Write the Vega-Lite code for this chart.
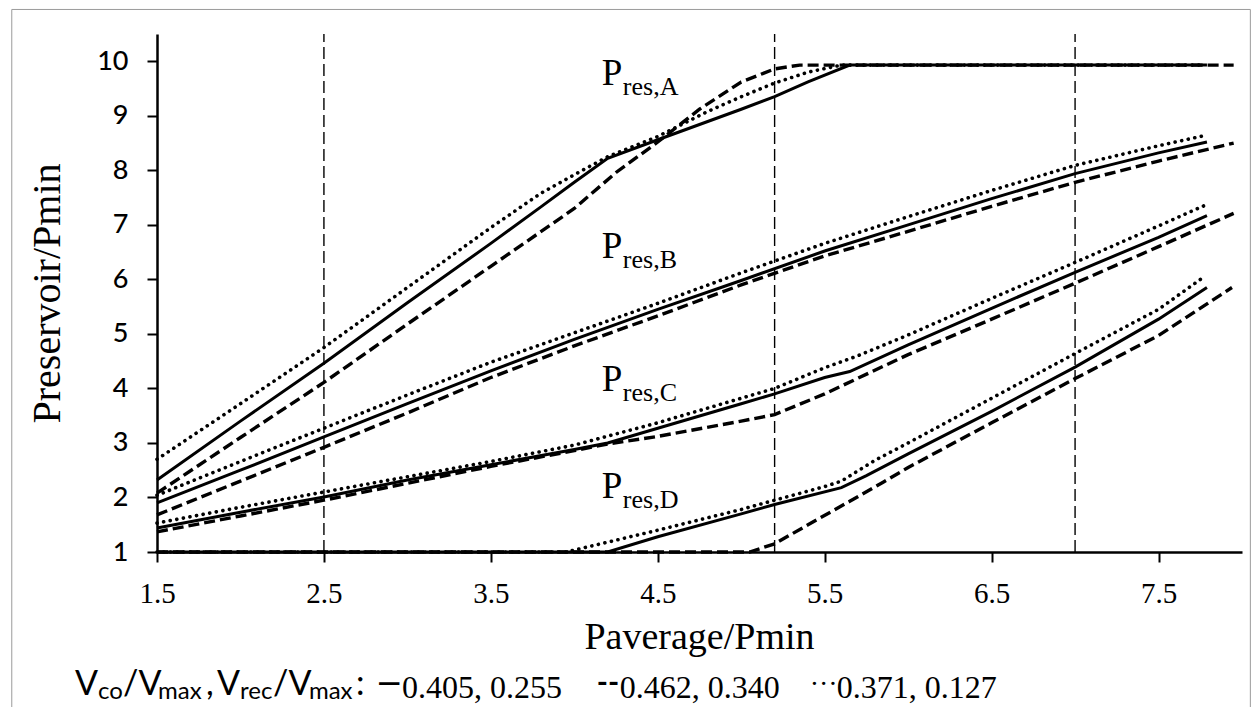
{
  "$schema": "https://vega.github.io/schema/vega-lite/v6.json",
  "width": 1085,
  "height": 518,
  "autosize": "none",
  "padding": {"left": 157, "top": 34, "right": 15, "bottom": 155},
  "background": "white",
  "config": {
    "view": {"stroke": null},
    "axis": {
      "domainColor": "black",
      "domainWidth": 2.5,
      "tickColor": "black",
      "tickWidth": 2,
      "tickSize": 10,
      "grid": false,
      "labelColor": "black",
      "titleColor": "black",
      "titleFontWeight": "normal"
    }
  },
  "datasets": {
    "curves": [
      {"curve": "A", "case": "solid", "x": 1.5, "y": 2.32},
      {"curve": "A", "case": "solid", "x": 2.0, "y": 3.40},
      {"curve": "A", "case": "solid", "x": 2.5, "y": 4.46},
      {"curve": "A", "case": "solid", "x": 3.0, "y": 5.57},
      {"curve": "A", "case": "solid", "x": 3.5, "y": 6.66},
      {"curve": "A", "case": "solid", "x": 3.8, "y": 7.33},
      {"curve": "A", "case": "solid", "x": 4.0, "y": 7.78},
      {"curve": "A", "case": "solid", "x": 4.2, "y": 8.22},
      {"curve": "A", "case": "solid", "x": 4.5, "y": 8.56},
      {"curve": "A", "case": "solid", "x": 5.0, "y": 9.12},
      {"curve": "A", "case": "solid", "x": 5.2, "y": 9.35},
      {"curve": "A", "case": "solid", "x": 5.4, "y": 9.62},
      {"curve": "A", "case": "solid", "x": 5.65, "y": 9.93},
      {"curve": "A", "case": "solid", "x": 6.5, "y": 9.93},
      {"curve": "A", "case": "solid", "x": 7.79, "y": 9.93},

      {"curve": "A", "case": "dashed", "x": 1.5, "y": 2.08},
      {"curve": "A", "case": "dashed", "x": 2.0, "y": 3.10},
      {"curve": "A", "case": "dashed", "x": 2.5, "y": 4.11},
      {"curve": "A", "case": "dashed", "x": 3.0, "y": 5.18},
      {"curve": "A", "case": "dashed", "x": 3.5, "y": 6.24},
      {"curve": "A", "case": "dashed", "x": 4.0, "y": 7.30},
      {"curve": "A", "case": "dashed", "x": 4.25, "y": 7.96},
      {"curve": "A", "case": "dashed", "x": 4.5, "y": 8.52},
      {"curve": "A", "case": "dashed", "x": 4.75, "y": 9.12},
      {"curve": "A", "case": "dashed", "x": 5.0, "y": 9.62},
      {"curve": "A", "case": "dashed", "x": 5.2, "y": 9.86},
      {"curve": "A", "case": "dashed", "x": 5.35, "y": 9.93},
      {"curve": "A", "case": "dashed", "x": 6.5, "y": 9.93},
      {"curve": "A", "case": "dashed", "x": 7.95, "y": 9.93},

      {"curve": "A", "case": "dotted", "x": 1.5, "y": 2.70},
      {"curve": "A", "case": "dotted", "x": 2.0, "y": 3.72},
      {"curve": "A", "case": "dotted", "x": 2.5, "y": 4.75},
      {"curve": "A", "case": "dotted", "x": 3.0, "y": 5.85},
      {"curve": "A", "case": "dotted", "x": 3.5, "y": 6.95},
      {"curve": "A", "case": "dotted", "x": 3.8, "y": 7.58},
      {"curve": "A", "case": "dotted", "x": 4.0, "y": 7.92},
      {"curve": "A", "case": "dotted", "x": 4.2, "y": 8.25},
      {"curve": "A", "case": "dotted", "x": 4.5, "y": 8.62},
      {"curve": "A", "case": "dotted", "x": 4.8, "y": 9.08},
      {"curve": "A", "case": "dotted", "x": 5.0, "y": 9.35},
      {"curve": "A", "case": "dotted", "x": 5.2, "y": 9.60},
      {"curve": "A", "case": "dotted", "x": 5.4, "y": 9.80},
      {"curve": "A", "case": "dotted", "x": 5.6, "y": 9.93},
      {"curve": "A", "case": "dotted", "x": 6.5, "y": 9.93},
      {"curve": "A", "case": "dotted", "x": 7.78, "y": 9.93},

      {"curve": "B", "case": "solid", "x": 1.5, "y": 1.90},
      {"curve": "B", "case": "solid", "x": 2.0, "y": 2.50},
      {"curve": "B", "case": "solid", "x": 2.5, "y": 3.11},
      {"curve": "B", "case": "solid", "x": 3.0, "y": 3.72},
      {"curve": "B", "case": "solid", "x": 3.5, "y": 4.32},
      {"curve": "B", "case": "solid", "x": 4.0, "y": 4.90},
      {"curve": "B", "case": "solid", "x": 4.5, "y": 5.45},
      {"curve": "B", "case": "solid", "x": 5.0, "y": 5.98},
      {"curve": "B", "case": "solid", "x": 5.5, "y": 6.52},
      {"curve": "B", "case": "solid", "x": 6.0, "y": 7.00},
      {"curve": "B", "case": "solid", "x": 6.5, "y": 7.48},
      {"curve": "B", "case": "solid", "x": 7.0, "y": 7.94},
      {"curve": "B", "case": "solid", "x": 7.5, "y": 8.32},
      {"curve": "B", "case": "solid", "x": 7.79, "y": 8.52},

      {"curve": "B", "case": "dotted", "x": 1.5, "y": 2.04},
      {"curve": "B", "case": "dotted", "x": 2.0, "y": 2.66},
      {"curve": "B", "case": "dotted", "x": 2.5, "y": 3.27},
      {"curve": "B", "case": "dotted", "x": 3.0, "y": 3.88},
      {"curve": "B", "case": "dotted", "x": 3.5, "y": 4.48},
      {"curve": "B", "case": "dotted", "x": 4.0, "y": 5.02},
      {"curve": "B", "case": "dotted", "x": 4.5, "y": 5.56},
      {"curve": "B", "case": "dotted", "x": 5.0, "y": 6.12},
      {"curve": "B", "case": "dotted", "x": 5.5, "y": 6.66},
      {"curve": "B", "case": "dotted", "x": 6.0, "y": 7.15},
      {"curve": "B", "case": "dotted", "x": 6.5, "y": 7.63},
      {"curve": "B", "case": "dotted", "x": 7.0, "y": 8.09},
      {"curve": "B", "case": "dotted", "x": 7.5, "y": 8.45},
      {"curve": "B", "case": "dotted", "x": 7.78, "y": 8.64},

      {"curve": "B", "case": "dashed", "x": 1.5, "y": 1.68},
      {"curve": "B", "case": "dashed", "x": 2.0, "y": 2.30},
      {"curve": "B", "case": "dashed", "x": 2.5, "y": 2.92},
      {"curve": "B", "case": "dashed", "x": 3.0, "y": 3.55},
      {"curve": "B", "case": "dashed", "x": 3.5, "y": 4.20},
      {"curve": "B", "case": "dashed", "x": 4.0, "y": 4.78},
      {"curve": "B", "case": "dashed", "x": 4.5, "y": 5.33},
      {"curve": "B", "case": "dashed", "x": 5.0, "y": 5.90},
      {"curve": "B", "case": "dashed", "x": 5.5, "y": 6.43},
      {"curve": "B", "case": "dashed", "x": 6.0, "y": 6.88},
      {"curve": "B", "case": "dashed", "x": 6.5, "y": 7.34},
      {"curve": "B", "case": "dashed", "x": 7.0, "y": 7.78},
      {"curve": "B", "case": "dashed", "x": 7.5, "y": 8.17},
      {"curve": "B", "case": "dashed", "x": 7.95, "y": 8.50},

      {"curve": "C", "case": "solid", "x": 1.5, "y": 1.44},
      {"curve": "C", "case": "solid", "x": 2.0, "y": 1.73},
      {"curve": "C", "case": "solid", "x": 2.5, "y": 2.01},
      {"curve": "C", "case": "solid", "x": 3.0, "y": 2.32},
      {"curve": "C", "case": "solid", "x": 3.5, "y": 2.60},
      {"curve": "C", "case": "solid", "x": 4.0, "y": 2.88},
      {"curve": "C", "case": "solid", "x": 4.2, "y": 3.00},
      {"curve": "C", "case": "solid", "x": 4.5, "y": 3.27},
      {"curve": "C", "case": "solid", "x": 5.0, "y": 3.72},
      {"curve": "C", "case": "solid", "x": 5.2, "y": 3.90},
      {"curve": "C", "case": "solid", "x": 5.5, "y": 4.20},
      {"curve": "C", "case": "solid", "x": 5.65, "y": 4.31},
      {"curve": "C", "case": "solid", "x": 6.0, "y": 4.80},
      {"curve": "C", "case": "solid", "x": 6.5, "y": 5.47},
      {"curve": "C", "case": "solid", "x": 7.0, "y": 6.13},
      {"curve": "C", "case": "solid", "x": 7.5, "y": 6.77},
      {"curve": "C", "case": "solid", "x": 7.79, "y": 7.17},

      {"curve": "C", "case": "dotted", "x": 1.5, "y": 1.53},
      {"curve": "C", "case": "dotted", "x": 2.0, "y": 1.82},
      {"curve": "C", "case": "dotted", "x": 2.5, "y": 2.10},
      {"curve": "C", "case": "dotted", "x": 3.0, "y": 2.38},
      {"curve": "C", "case": "dotted", "x": 3.5, "y": 2.66},
      {"curve": "C", "case": "dotted", "x": 4.0, "y": 2.96},
      {"curve": "C", "case": "dotted", "x": 4.5, "y": 3.37},
      {"curve": "C", "case": "dotted", "x": 5.0, "y": 3.82},
      {"curve": "C", "case": "dotted", "x": 5.2, "y": 4.00},
      {"curve": "C", "case": "dotted", "x": 5.5, "y": 4.38},
      {"curve": "C", "case": "dotted", "x": 5.7, "y": 4.60},
      {"curve": "C", "case": "dotted", "x": 6.0, "y": 4.98},
      {"curve": "C", "case": "dotted", "x": 6.5, "y": 5.65},
      {"curve": "C", "case": "dotted", "x": 7.0, "y": 6.31},
      {"curve": "C", "case": "dotted", "x": 7.5, "y": 6.98},
      {"curve": "C", "case": "dotted", "x": 7.78, "y": 7.36},

      {"curve": "C", "case": "dashed", "x": 1.5, "y": 1.37},
      {"curve": "C", "case": "dashed", "x": 2.0, "y": 1.66},
      {"curve": "C", "case": "dashed", "x": 2.5, "y": 1.95},
      {"curve": "C", "case": "dashed", "x": 3.0, "y": 2.26},
      {"curve": "C", "case": "dashed", "x": 3.5, "y": 2.57},
      {"curve": "C", "case": "dashed", "x": 4.0, "y": 2.86},
      {"curve": "C", "case": "dashed", "x": 4.2, "y": 2.98},
      {"curve": "C", "case": "dashed", "x": 4.5, "y": 3.12},
      {"curve": "C", "case": "dashed", "x": 5.0, "y": 3.40},
      {"curve": "C", "case": "dashed", "x": 5.2, "y": 3.52},
      {"curve": "C", "case": "dashed", "x": 5.5, "y": 3.90},
      {"curve": "C", "case": "dashed", "x": 6.0, "y": 4.62},
      {"curve": "C", "case": "dashed", "x": 6.5, "y": 5.27},
      {"curve": "C", "case": "dashed", "x": 7.0, "y": 5.93},
      {"curve": "C", "case": "dashed", "x": 7.5, "y": 6.60},
      {"curve": "C", "case": "dashed", "x": 7.95, "y": 7.21},

      {"curve": "D", "case": "solid", "x": 1.5, "y": 1.0},
      {"curve": "D", "case": "solid", "x": 4.2, "y": 1.0},
      {"curve": "D", "case": "solid", "x": 4.5, "y": 1.28},
      {"curve": "D", "case": "solid", "x": 5.0, "y": 1.70},
      {"curve": "D", "case": "solid", "x": 5.2, "y": 1.87},
      {"curve": "D", "case": "solid", "x": 5.6, "y": 2.18},
      {"curve": "D", "case": "solid", "x": 5.75, "y": 2.40},
      {"curve": "D", "case": "solid", "x": 6.0, "y": 2.80},
      {"curve": "D", "case": "solid", "x": 6.5, "y": 3.58},
      {"curve": "D", "case": "solid", "x": 7.0, "y": 4.39},
      {"curve": "D", "case": "solid", "x": 7.5, "y": 5.27},
      {"curve": "D", "case": "solid", "x": 7.79, "y": 5.85},

      {"curve": "D", "case": "dotted", "x": 1.5, "y": 1.0},
      {"curve": "D", "case": "dotted", "x": 3.95, "y": 1.0},
      {"curve": "D", "case": "dotted", "x": 4.2, "y": 1.18},
      {"curve": "D", "case": "dotted", "x": 4.5, "y": 1.40},
      {"curve": "D", "case": "dotted", "x": 5.0, "y": 1.78},
      {"curve": "D", "case": "dotted", "x": 5.2, "y": 1.95},
      {"curve": "D", "case": "dotted", "x": 5.5, "y": 2.20},
      {"curve": "D", "case": "dotted", "x": 5.6, "y": 2.30},
      {"curve": "D", "case": "dotted", "x": 5.8, "y": 2.68},
      {"curve": "D", "case": "dotted", "x": 6.0, "y": 3.00},
      {"curve": "D", "case": "dotted", "x": 6.5, "y": 3.82},
      {"curve": "D", "case": "dotted", "x": 7.0, "y": 4.64},
      {"curve": "D", "case": "dotted", "x": 7.5, "y": 5.45},
      {"curve": "D", "case": "dotted", "x": 7.76, "y": 6.02},

      {"curve": "D", "case": "dashed", "x": 1.5, "y": 1.0},
      {"curve": "D", "case": "dashed", "x": 5.05, "y": 1.0},
      {"curve": "D", "case": "dashed", "x": 5.2, "y": 1.15},
      {"curve": "D", "case": "dashed", "x": 5.4, "y": 1.50},
      {"curve": "D", "case": "dashed", "x": 5.65, "y": 1.93},
      {"curve": "D", "case": "dashed", "x": 5.85, "y": 2.28},
      {"curve": "D", "case": "dashed", "x": 6.0, "y": 2.55},
      {"curve": "D", "case": "dashed", "x": 6.5, "y": 3.37},
      {"curve": "D", "case": "dashed", "x": 7.0, "y": 4.18},
      {"curve": "D", "case": "dashed", "x": 7.5, "y": 4.97},
      {"curve": "D", "case": "dashed", "x": 7.94, "y": 5.85}
    ],
    "refs": [{"x": 2.5}, {"x": 5.2}, {"x": 7.0}],
    "labels": [
      {"curve": "A", "x": 4.165, "y": 9.57, "sub": "res,A"},
      {"curve": "B", "x": 4.165, "y": 6.40, "sub": "res,B"},
      {"curve": "C", "x": 4.165, "y": 3.95, "sub": "res,C"},
      {"curve": "D", "x": 4.165, "y": 1.99, "sub": "res,D"}
    ],
    "key": [
      {"part": "V", "style": "sans", "x": 1.009},
      {"part": "co", "style": "sub", "x": 1.147},
      {"part": "/V", "style": "sans", "x": 1.296},
      {"part": "max", "style": "sub", "x": 1.506},
      {"part": ",", "style": "sans", "x": 1.793},
      {"part": "V", "style": "sans", "x": 1.859},
      {"part": "rec", "style": "sub", "x": 1.997},
      {"part": "/V", "style": "sans", "x": 2.195},
      {"part": "max", "style": "sub", "x": 2.41},
      {"part": ":", "style": "sans", "x": 2.692},
      {"part": "—", "style": "dash", "x": 2.82},
      {"part": "0.405, 0.255", "style": "serif", "x": 2.967},
      {"part": "--", "style": "dash", "x": 4.135},
      {"part": "0.462, 0.340", "style": "serif", "x": 4.272},
      {"part": "···", "style": "dots", "x": 5.41},
      {"part": "0.371, 0.127", "style": "serif", "x": 5.572}
    ],
    "frame": [{"x0": 0.63, "x1": 8.05, "y0": -2.3, "y1": 10.95}]
  },
  "layer": [
    {
      "data": {"name": "frame"},
      "mark": {"type": "rect", "fill": null, "stroke": "#9a9a9a", "strokeWidth": 1},
      "encoding": {
        "x": {"field": "x0", "type": "quantitative"},
        "x2": {"field": "x1"},
        "y": {"field": "y0", "type": "quantitative"},
        "y2": {"field": "y1"}
      }
    },
    {
      "data": {"name": "refs"},
      "mark": {"type": "rule", "color": "black", "strokeWidth": 1.4, "strokeDash": [12, 5]},
      "encoding": {
        "x": {"field": "x", "type": "quantitative"},
        "y": {"datum": 1},
        "y2": {"datum": 10.5}
      }
    },
    {
      "data": {"name": "curves"},
      "transform": [{"filter": "datum.case === 'solid'"}],
      "mark": {"type": "line", "color": "black", "strokeWidth": 3},
      "encoding": {
        "x": {
          "field": "x", "type": "quantitative",
          "scale": {"domain": [1.5, 8.0], "nice": false, "zero": false},
          "axis": {
            "values": [1.5, 2.5, 3.5, 4.5, 5.5, 6.5, 7.5],
            "format": ".1f",
            "labelFont": "Liberation Serif",
            "labelFontSize": 29,
            "labelPadding": 17,
            "labelFlush": false,
            "title": "Paverage/Pmin",
            "titleFont": "Liberation Serif",
            "titleFontSize": 38,
            "titleBaseline": "alphabetic",
            "titleX": 542,
            "titleY": 96
          }
        },
        "y": {
          "field": "y", "type": "quantitative",
          "scale": {"domain": [1, 10.5], "nice": false, "zero": false},
          "axis": {
            "values": [1, 2, 3, 4, 5, 6, 7, 8, 9, 10],
            "labelFont": "Lato",
            "labelFontSize": 27,
            "labelFontWeight": 500,
            "labelPadding": 19,
            "labelFlush": false,
            "title": "Preservoir/Pmin",
            "titleFont": "Liberation Serif",
            "titleFontSize": 40,
            "titleAngle": -90,
            "titleBaseline": "alphabetic",
            "titleAlign": "center",
            "titleX": -98,
            "titleY": 259
          }
        },
        "detail": {"field": "curve"}
      }
    },
    {
      "data": {"name": "curves"},
      "transform": [{"filter": "datum.case === 'dashed'"}],
      "mark": {"type": "line", "color": "black", "strokeWidth": 3.4, "strokeDash": [11, 5]},
      "encoding": {
        "x": {"field": "x", "type": "quantitative"},
        "y": {"field": "y", "type": "quantitative"},
        "detail": {"field": "curve"}
      }
    },
    {
      "data": {"name": "curves"},
      "transform": [{"filter": "datum.case === 'dotted'"}],
      "mark": {"type": "line", "color": "black", "strokeWidth": 3.6, "strokeDash": [0.1, 6.6], "strokeCap": "round"},
      "encoding": {
        "x": {"field": "x", "type": "quantitative"},
        "y": {"field": "y", "type": "quantitative"},
        "detail": {"field": "curve"}
      }
    },
    {
      "data": {"name": "labels"},
      "mark": {"type": "text", "font": "Liberation Serif", "fontSize": 37, "align": "left", "baseline": "alphabetic", "color": "black"},
      "encoding": {
        "x": {"field": "x", "type": "quantitative"},
        "y": {"field": "y", "type": "quantitative"},
        "text": {"value": "P"}
      }
    },
    {
      "data": {"name": "labels"},
      "mark": {"type": "text", "font": "Liberation Serif", "fontSize": 26, "align": "left", "baseline": "alphabetic", "dx": 21, "dy": 10, "color": "black"},
      "encoding": {
        "x": {"field": "x", "type": "quantitative"},
        "y": {"field": "y", "type": "quantitative"},
        "text": {"field": "sub"}
      }
    },
    {
      "data": {"name": "key"},
      "transform": [{"filter": "datum.style === 'sans'"}],
      "mark": {"type": "text", "font": "Lato", "fontSize": 34, "align": "left", "baseline": "alphabetic", "color": "black"},
      "encoding": {
        "x": {"field": "x", "type": "quantitative"},
        "y": {"datum": -1.62},
        "text": {"field": "part"}
      }
    },
    {
      "data": {"name": "key"},
      "transform": [{"filter": "datum.style === 'sub'"}],
      "mark": {"type": "text", "font": "Lato", "fontSize": 24, "align": "left", "baseline": "alphabetic", "dy": 4, "color": "black"},
      "encoding": {
        "x": {"field": "x", "type": "quantitative"},
        "y": {"datum": -1.62},
        "text": {"field": "part"}
      }
    },
    {
      "data": {"name": "key"},
      "transform": [{"filter": "datum.style === 'serif'"}],
      "mark": {"type": "text", "font": "Liberation Serif", "fontSize": 32, "align": "left", "baseline": "alphabetic", "dy": 3, "color": "black"},
      "encoding": {
        "x": {"field": "x", "type": "quantitative"},
        "y": {"datum": -1.62},
        "text": {"field": "part"}
      }
    },
    {
      "data": {"name": "key"},
      "transform": [{"filter": "datum.style === 'dash'"}],
      "mark": {"type": "text", "font": "Lato", "fontSize": 30, "fontWeight": "bold", "align": "left", "baseline": "alphabetic", "dy": -2, "color": "black"},
      "encoding": {
        "x": {"field": "x", "type": "quantitative"},
        "y": {"datum": -1.62},
        "text": {"field": "part"}
      }
    },
    {
      "data": {"name": "key"},
      "transform": [{"filter": "datum.style === 'dots'"}],
      "mark": {"type": "text", "font": "Liberation Serif", "fontSize": 28, "align": "left", "baseline": "alphabetic", "dy": -2, "color": "black"},
      "encoding": {
        "x": {"field": "x", "type": "quantitative"},
        "y": {"datum": -1.62},
        "text": {"field": "part"}
      }
    }
  ]
}
